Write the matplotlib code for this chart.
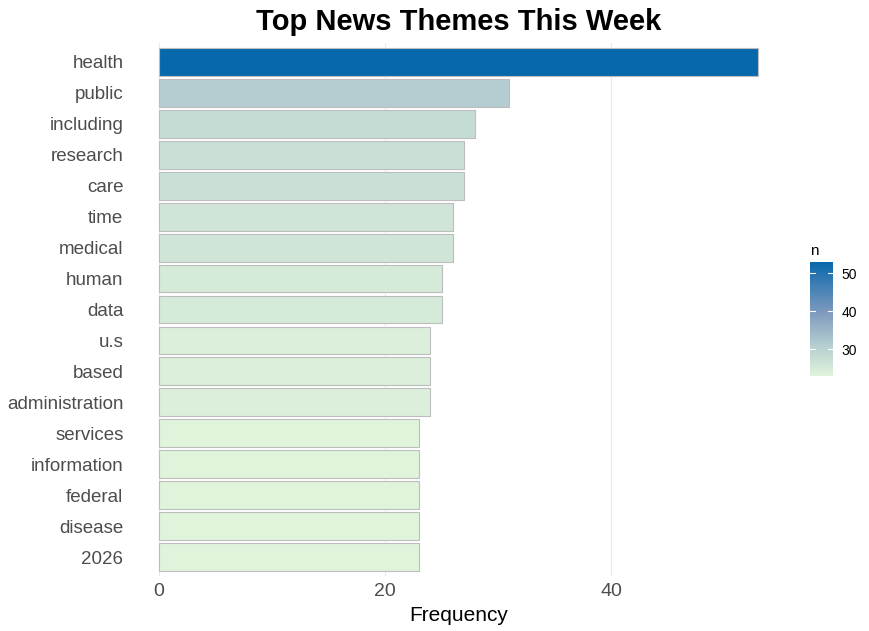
import matplotlib
matplotlib.use("Agg")
import matplotlib.pyplot as plt
from matplotlib.colors import LinearSegmentedColormap, Normalize
from matplotlib.cm import ScalarMappable

plt.rcParams['font.family'] = ['Liberation Sans', 'DejaVu Sans']

# top words and their counts (top to bottom)
words = ["health", "public", "including", "research", "care", "time", "medical",
         "human", "data", "u.s", "based", "administration", "services",
         "information", "federal", "disease", "2026"]
counts = [53, 31, 28, 27, 27, 26, 26, 25, 25, 24, 24, 24, 23, 23, 23, 23, 23]

cmap = LinearSegmentedColormap.from_list(
    "gn_bu", [(0.0, "#e0f3db"), (0.27, "#b4cdd0"), (0.57, "#7b98bd"), (1.0, "#0868ac")])
norm = Normalize(vmin=min(counts), vmax=max(counts))

fig = plt.figure(figsize=(8.69, 6.31), dpi=100)
ax = fig.add_axes([0.1484, 0.0878, 0.7584, 0.8434])

ypos = list(range(len(words), 0, -1))
ax.barh(ypos, counts, height=0.9, color=cmap(norm(counts)),
        edgecolor="#bdbdbd", linewidth=0.8, zorder=2)

ax.set_xlim(-2.65, 55.65)
ax.set_ylim(0.4, len(words) + 0.6)
ax.set_xticks([0, 20, 40])
ax.set_yticks(ypos)
ax.set_yticklabels(words)
ax.tick_params(axis="y", length=0, labelsize=13.5, labelcolor="#4d4d4d", pad=4)
ax.tick_params(axis="x", length=0, labelsize=14, labelcolor="#4d4d4d", pad=5)
ax.grid(axis="x", color="#ebebeb", linewidth=0.8, zorder=0)
for s in ax.spines.values():
    s.set_visible(False)
ax.set_xlabel("Frequency", fontsize=15, color="black", labelpad=5)
# title centred over the panel
ax.set_title("Top News Themes This Week", fontsize=21, fontweight="bold", pad=10)

cax = fig.add_axes([0.932, 0.404, 0.0265, 0.1807])
cb = fig.colorbar(ScalarMappable(norm=norm, cmap=cmap), cax=cax, ticks=[30, 40, 50])
cb.outline.set_visible(False)
cax.tick_params(length=0, labelsize=10, labelcolor="black", pad=6)
for t in [30, 40, 50]:
    cax.plot([0, 0.22], [t, t], color="white", linewidth=0.8, transform=cax.get_yaxis_transform())
    cax.plot([0.78, 1], [t, t], color="white", linewidth=0.8, transform=cax.get_yaxis_transform())
cax.set_title("n", fontsize=11, loc="left", pad=5)

fig.savefig("out.png", dpi=100)
